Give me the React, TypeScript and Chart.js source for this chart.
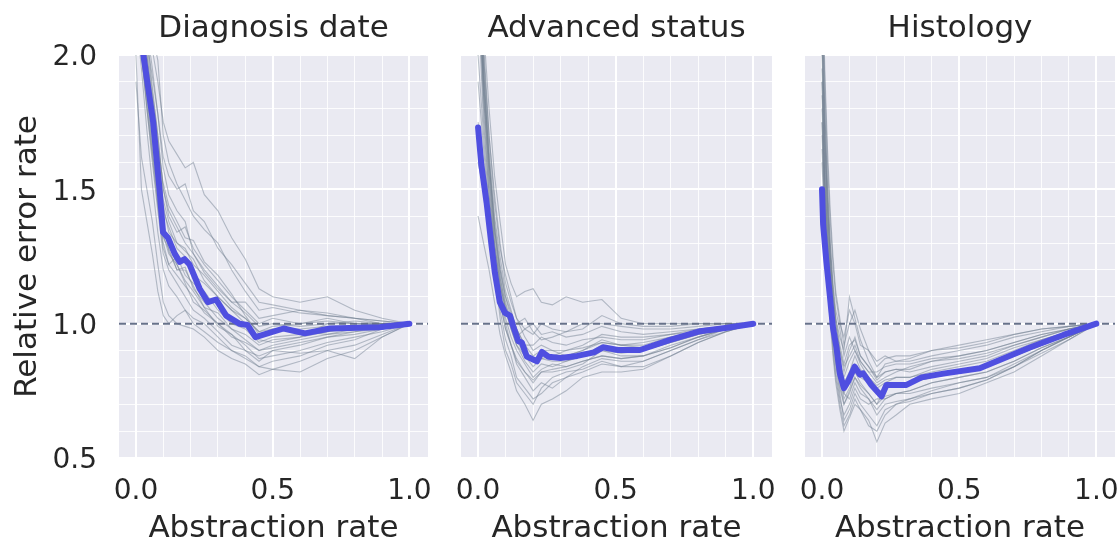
import React, { useEffect, useRef } from 'react';
import { Chart, registerables } from 'chart.js';

Chart.register(...registerables);

// ---------- texts & ticks ----------
const TITLES = ['Diagnosis date', 'Advanced status', 'Histology'];
const X_TITLE = 'Abstraction rate';
const Y_TITLE = 'Relative error rate';
const X_TICK_LABELS = [0.0, 0.5, 1.0];
const Y_TICK_LABELS = [0.5, 1.0, 1.5, 2.0];
const REFERENCE_Y = 1.0;
const X_MIN = -0.062;
const X_MAX = 1.068;
const Y_MIN = 0.5;
const Y_MAX = 2.0;

// ---------- Panel 1: Diagnosis date ----------
const DX_MEAN_X = [0.01, 0.063, 0.087, 0.099, 0.117, 0.142, 0.16, 0.178, 0.196, 0.233, 0.263, 0.293, 0.33, 0.378, 0.408, 0.437, 0.54, 0.618, 0.71, 0.89, 1.0];
const DX_MEAN_Y = [2.12, 1.75, 1.49, 1.34, 1.32, 1.26, 1.23, 1.24, 1.22, 1.13, 1.08, 1.09, 1.03, 1.0, 0.995, 0.95, 0.982, 0.964, 0.982, 0.987, 1.0];
const DX_GRID = [0, 0.02, 0.04, 0.06, 0.08, 0.1, 0.12, 0.15, 0.18, 0.21, 0.25, 0.3, 0.35, 0.4, 0.45, 0.5, 0.6, 0.7, 0.8, 0.9, 1.0];
const DX_RUNS = [
  [2.45, 2.3, 2.15, 2.02, 1.9, 1.75, 1.68, 1.63, 1.58, 1.6, 1.48, 1.42, 1.32, 1.24, 1.13, 1.1, 1.08, 1.1, 1.05, 1.02, 1.0],
  [2.35, 2.2, 2.05, 1.92, 1.78, 1.62, 1.55, 1.5, 1.52, 1.42, 1.38, 1.28, 1.22, 1.15, 1.08, 1.07, 1.05, 1.03, 1.02, 1.01, 1.0],
  [2.2, 2.0, 1.82, 1.64, 1.48, 1.36, 1.3, 1.22, 1.16, 1.12, 1.06, 0.99, 0.96, 0.92, 0.87, 0.88, 0.9, 0.93, 0.95, 0.97, 1.0],
  [1.9, 1.62, 1.5, 1.38, 1.22, 1.08, 1.03, 1.0, 0.99, 0.98, 0.95, 0.9, 0.87, 0.85, 0.81, 0.83, 0.82, 0.87, 0.9, 0.95, 1.0],
  [2.4, 2.25, 2.08, 1.88, 1.7, 1.5, 1.4, 1.34, 1.36, 1.28, 1.22, 1.16, 1.1, 1.05, 1.0, 1.02, 1.0, 1.02, 1.0, 0.99, 1.0],
  [2.3, 2.12, 1.92, 1.72, 1.52, 1.38, 1.27, 1.2, 1.21, 1.13, 1.08, 1.02, 0.98, 0.94, 0.9, 0.92, 0.94, 0.96, 0.97, 0.99, 1.0],
  [2.3, 2.18, 2.0, 1.82, 1.66, 1.52, 1.44, 1.38, 1.32, 1.31, 1.23, 1.18, 1.11, 1.03, 0.96, 0.98, 0.97, 0.96, 0.98, 0.99, 1.0],
  [2.15, 1.95, 1.72, 1.52, 1.34, 1.2, 1.14, 1.1, 1.05, 1.02, 1.0, 0.95, 0.9, 0.87, 0.84, 0.86, 0.88, 0.92, 0.94, 0.98, 1.0],
  [2.5, 2.38, 2.22, 2.08, 1.98, 1.7, 1.6, 1.52, 1.46, 1.4, 1.35, 1.3, 1.2, 1.12, 1.05, 1.06, 1.04, 1.03, 1.02, 1.0, 1.0],
  [2.25, 2.05, 1.85, 1.65, 1.45, 1.3, 1.22, 1.25, 1.18, 1.15, 1.12, 1.05, 1.0, 0.98, 0.93, 0.95, 0.96, 0.97, 0.99, 1.0, 1.0],
  [2.3, 2.12, 1.95, 1.76, 1.58, 1.42, 1.36, 1.28, 1.25, 1.18, 1.15, 1.1, 1.05, 1.0, 0.94, 0.93, 0.95, 1.0, 1.01, 1.0, 1.0],
  [2.25, 2.08, 1.9, 1.7, 1.5, 1.33, 1.26, 1.22, 1.15, 1.08, 1.05, 1.0, 0.96, 0.9, 0.88, 0.9, 0.89, 0.9, 0.87, 0.95, 1.0],
  [2.4, 2.26, 2.1, 1.95, 1.78, 1.58, 1.48, 1.42, 1.38, 1.26, 1.19, 1.13, 1.08, 1.08, 1.02, 1.03, 1.05, 1.04, 1.02, 1.01, 1.0],
  [2.2, 2.02, 1.8, 1.6, 1.42, 1.26, 1.2, 1.15, 1.1, 1.05, 1.02, 0.97, 0.92, 0.9, 0.86, 0.9, 0.92, 0.95, 0.96, 0.98, 1.0],
  [2.0, 1.5, 1.38, 1.26, 1.12, 1.03, 1.0, 1.03, 1.05, 1.0, 0.97, 0.93, 0.9, 0.88, 0.84, 0.83, 0.86, 0.9, 0.92, 0.96, 1.0],
  [2.3, 2.15, 1.98, 1.8, 1.62, 1.44, 1.34, 1.3, 1.28, 1.22, 1.18, 1.12, 1.06, 1.02, 0.97, 0.99, 1.0, 1.01, 1.0, 1.0, 1.0],
  [2.35, 2.18, 2.0, 1.84, 1.66, 1.46, 1.38, 1.3, 1.27, 1.24, 1.16, 1.1, 1.05, 1.02, 0.97, 0.98, 0.98, 0.99, 0.99, 1.0, 1.0],
  [2.25, 2.05, 1.86, 1.68, 1.5, 1.32, 1.28, 1.2, 1.2, 1.14, 1.06, 1.04, 0.98, 0.96, 0.92, 0.94, 0.95, 0.97, 0.98, 0.99, 1.0],
  [2.4, 2.22, 2.04, 1.86, 1.7, 1.5, 1.42, 1.36, 1.3, 1.26, 1.2, 1.14, 1.08, 1.04, 0.99, 1.0, 0.99, 1.0, 1.0, 1.0, 1.0],
  [2.2, 2.0, 1.8, 1.62, 1.44, 1.28, 1.22, 1.18, 1.14, 1.1, 1.04, 1.0, 0.95, 0.93, 0.9, 0.91, 0.93, 0.95, 0.97, 0.98, 1.0],
];

// ---------- Panel 2: Advanced status ----------
const AS_MEAN_X = [0.0, 0.012, 0.031, 0.049, 0.061, 0.079, 0.098, 0.116, 0.128, 0.146, 0.159, 0.177, 0.214, 0.232, 0.256, 0.299, 0.36, 0.421, 0.454, 0.508, 0.588, 0.698, 0.807, 0.905, 1.0];
const AS_MEAN_Y = [1.73, 1.59, 1.45, 1.29, 1.19, 1.08, 1.04, 1.03, 0.99, 0.935, 0.93, 0.878, 0.86, 0.895, 0.877, 0.872, 0.88, 0.893, 0.912, 0.902, 0.902, 0.94, 0.972, 0.985, 1.0];
const AS_GRID = [0, 0.02, 0.04, 0.06, 0.08, 0.1, 0.12, 0.14, 0.17, 0.2, 0.23, 0.27, 0.32, 0.38, 0.45, 0.52, 0.6, 0.7, 0.8, 0.9, 1.0];
const AS_RUNS = [
  [2.6, 2.0, 1.7, 1.45, 1.28, 1.18, 1.1, 1.02, 0.95, 0.9, 0.92, 0.9, 0.88, 0.9, 0.93, 0.92, 0.93, 0.95, 0.97, 0.99, 1.0],
  [1.6, 1.5, 1.38, 1.22, 1.08, 0.98, 0.92, 0.85, 0.8, 0.75, 0.78, 0.76, 0.8, 0.82, 0.85, 0.84, 0.86, 0.9, 0.94, 0.97, 1.0],
  [2.5, 2.1, 1.8, 1.55, 1.38, 1.22, 1.15, 1.1, 1.12, 1.13, 1.08, 1.07, 1.1, 1.08, 1.09, 1.02, 1.0, 1.0, 1.0, 1.0, 1.0],
  [1.4, 1.3, 1.2, 1.08, 0.96, 0.88, 0.82, 0.75, 0.7, 0.64, 0.7, 0.72, 0.75, 0.8, 0.82, 0.82, 0.83, 0.88, 0.93, 0.97, 1.0],
  [2.4, 1.9, 1.6, 1.35, 1.2, 1.08, 1.0, 0.95, 0.98, 1.0, 0.96, 0.97, 0.95, 0.96, 0.99, 0.97, 0.96, 0.97, 0.98, 0.99, 1.0],
  [2.35, 1.85, 1.55, 1.3, 1.15, 1.02, 0.95, 0.9, 0.85, 0.8, 0.83, 0.85, 0.84, 0.86, 0.88, 0.87, 0.88, 0.92, 0.95, 0.98, 1.0],
  [1.75, 1.6, 1.42, 1.22, 1.05, 0.94, 0.88, 0.8, 0.76, 0.72, 0.74, 0.78, 0.8, 0.84, 0.87, 0.86, 0.86, 0.9, 0.94, 0.98, 1.0],
  [2.5, 2.0, 1.65, 1.4, 1.25, 1.12, 1.05, 0.98, 0.92, 0.92, 0.95, 0.93, 0.92, 0.94, 0.95, 0.94, 0.94, 0.96, 0.98, 0.99, 1.0],
  [2.3, 1.8, 1.48, 1.28, 1.12, 1.0, 0.92, 0.86, 0.82, 0.78, 0.82, 0.82, 0.83, 0.85, 0.9, 0.88, 0.88, 0.91, 0.95, 0.98, 1.0],
  [2.4, 1.95, 1.62, 1.38, 1.22, 1.1, 1.02, 1.0, 1.02, 0.97, 0.94, 0.95, 0.97, 1.0, 1.0, 0.99, 0.98, 0.98, 0.99, 1.0, 1.0],
  [1.9, 1.65, 1.42, 1.2, 1.02, 0.9, 0.85, 0.78, 0.74, 0.7, 0.76, 0.8, 0.82, 0.83, 0.86, 0.84, 0.84, 0.88, 0.93, 0.97, 1.0],
  [2.45, 1.92, 1.6, 1.35, 1.18, 1.05, 0.98, 0.92, 0.88, 0.86, 0.87, 0.88, 0.9, 0.92, 0.96, 0.95, 0.95, 0.96, 0.97, 0.99, 1.0],
  [2.3, 1.85, 1.52, 1.3, 1.15, 1.05, 0.98, 0.92, 0.86, 0.82, 0.85, 0.84, 0.86, 0.88, 0.92, 0.9, 0.9, 0.93, 0.96, 0.98, 1.0],
  [2.5, 2.05, 1.7, 1.48, 1.3, 1.15, 1.08, 1.02, 0.98, 0.96, 1.0, 0.98, 0.97, 0.98, 1.03, 1.0, 0.99, 0.99, 1.0, 1.0, 1.0],
  [2.2, 1.75, 1.48, 1.28, 1.14, 1.06, 1.0, 0.94, 0.88, 0.84, 0.87, 0.86, 0.86, 0.88, 0.9, 0.89, 0.9, 0.93, 0.96, 0.98, 1.0],
  [2.45, 1.95, 1.6, 1.36, 1.2, 1.1, 1.04, 0.98, 0.92, 0.88, 0.9, 0.9, 0.9, 0.91, 0.93, 0.92, 0.92, 0.95, 0.97, 0.99, 1.0],
  [2.0, 1.7, 1.44, 1.24, 1.08, 0.98, 0.92, 0.87, 0.82, 0.79, 0.82, 0.83, 0.84, 0.86, 0.88, 0.87, 0.88, 0.91, 0.95, 0.98, 1.0],
  [2.35, 1.88, 1.56, 1.33, 1.17, 1.07, 1.0, 0.96, 0.9, 0.86, 0.88, 0.88, 0.88, 0.9, 0.94, 0.92, 0.91, 0.94, 0.97, 0.99, 1.0],
];

// ---------- Panel 3: Histology ----------
const HI_MEAN_X = [0.0, 0.004, 0.016, 0.028, 0.04, 0.053, 0.065, 0.08, 0.095, 0.119, 0.138, 0.15, 0.18, 0.217, 0.235, 0.308, 0.363, 0.448, 0.575, 0.76, 0.88, 1.0];
const HI_MEAN_Y = [1.5, 1.37, 1.23, 1.11, 0.985, 0.91, 0.815, 0.76, 0.785, 0.84, 0.81, 0.815, 0.772, 0.73, 0.772, 0.772, 0.8, 0.815, 0.834, 0.912, 0.958, 1.0];
const HI_GRID = [0, 0.01, 0.02, 0.03, 0.04, 0.05, 0.065, 0.08, 0.1, 0.12, 0.14, 0.17, 0.2, 0.23, 0.27, 0.32, 0.4, 0.5, 0.6, 0.7, 0.8, 0.9, 1.0];
const HI_RUNS = [
  [2.1, 1.7, 1.45, 1.25, 1.1, 1.0, 0.9, 0.82, 0.9, 0.95, 0.88, 0.84, 0.8, 0.82, 0.83, 0.83, 0.86, 0.88, 0.9, 0.93, 0.96, 0.98, 1.0],
  [1.8, 1.5, 1.3, 1.12, 0.98, 0.88, 0.78, 0.7, 0.75, 0.8, 0.76, 0.72, 0.68, 0.72, 0.74, 0.74, 0.76, 0.78, 0.8, 0.85, 0.9, 0.95, 1.0],
  [2.3, 1.9, 1.6, 1.38, 1.22, 1.1, 1.0, 0.95, 1.05, 1.0, 0.92, 0.9, 0.86, 0.88, 0.86, 0.87, 0.9, 0.92, 0.94, 0.96, 0.98, 0.99, 1.0],
  [1.6, 1.35, 1.15, 1.0, 0.88, 0.78, 0.68, 0.6, 0.65, 0.7, 0.68, 0.64, 0.56, 0.63, 0.66, 0.7, 0.72, 0.74, 0.78, 0.82, 0.88, 0.94, 1.0],
  [1.95, 1.6, 1.38, 1.2, 1.05, 0.95, 0.86, 0.78, 0.82, 0.88, 0.83, 0.8, 0.76, 0.78, 0.8, 0.8, 0.82, 0.84, 0.86, 0.9, 0.94, 0.97, 1.0],
  [1.7, 1.42, 1.22, 1.05, 0.92, 0.82, 0.72, 0.66, 0.7, 0.76, 0.72, 0.7, 0.72, 0.72, 0.74, 0.75, 0.78, 0.8, 0.82, 0.86, 0.91, 0.95, 1.0],
  [2.0, 1.65, 1.42, 1.25, 1.1, 1.02, 0.95, 0.9, 1.1, 1.02, 0.94, 0.86, 0.8, 0.85, 0.86, 0.86, 0.88, 0.9, 0.92, 0.95, 0.97, 0.99, 1.0],
  [1.85, 1.52, 1.32, 1.15, 1.0, 0.9, 0.8, 0.72, 0.76, 0.82, 0.78, 0.74, 0.7, 0.76, 0.77, 0.78, 0.8, 0.82, 0.84, 0.88, 0.92, 0.96, 1.0],
  [2.2, 1.8, 1.52, 1.3, 1.15, 1.05, 0.98, 0.88, 0.95, 0.9, 0.86, 0.82, 0.78, 0.8, 0.82, 0.84, 0.86, 0.87, 0.89, 0.92, 0.95, 0.98, 1.0],
  [1.75, 1.45, 1.25, 1.08, 0.95, 0.85, 0.74, 0.64, 0.68, 0.74, 0.7, 0.66, 0.62, 0.68, 0.7, 0.71, 0.74, 0.76, 0.79, 0.84, 0.89, 0.94, 1.0],
  [2.05, 1.72, 1.46, 1.26, 1.12, 1.0, 0.9, 0.84, 0.88, 0.92, 0.86, 0.82, 0.82, 0.84, 0.85, 0.85, 0.87, 0.88, 0.9, 0.93, 0.96, 0.98, 1.0],
  [1.9, 1.55, 1.35, 1.18, 1.02, 0.92, 0.82, 0.74, 0.72, 0.78, 0.74, 0.72, 0.66, 0.7, 0.71, 0.72, 0.75, 0.78, 0.8, 0.84, 0.9, 0.95, 1.0],
  [2.4, 1.95, 1.65, 1.42, 1.25, 1.12, 1.02, 0.92, 1.0, 1.05, 0.98, 0.9, 0.84, 0.87, 0.88, 0.88, 0.9, 0.91, 0.93, 0.96, 0.98, 0.99, 1.0],
  [1.65, 1.4, 1.2, 1.04, 0.9, 0.8, 0.7, 0.62, 0.66, 0.72, 0.68, 0.62, 0.6, 0.66, 0.7, 0.72, 0.74, 0.76, 0.79, 0.84, 0.9, 0.95, 1.0],
  [1.9, 1.55, 1.32, 1.14, 1.0, 0.9, 0.8, 0.74, 0.8, 0.85, 0.8, 0.78, 0.74, 0.76, 0.77, 0.78, 0.8, 0.82, 0.84, 0.88, 0.92, 0.96, 1.0],
  [2.1, 1.68, 1.42, 1.22, 1.06, 0.96, 0.86, 0.8, 0.86, 0.9, 0.85, 0.8, 0.77, 0.79, 0.8, 0.8, 0.83, 0.85, 0.87, 0.91, 0.94, 0.97, 1.0],
  [1.75, 1.46, 1.26, 1.1, 0.96, 0.86, 0.76, 0.7, 0.74, 0.8, 0.77, 0.74, 0.7, 0.73, 0.74, 0.75, 0.78, 0.8, 0.82, 0.86, 0.91, 0.95, 1.0],
  [2.25, 1.8, 1.5, 1.3, 1.14, 1.02, 0.92, 0.85, 0.92, 0.94, 0.88, 0.84, 0.79, 0.82, 0.83, 0.82, 0.84, 0.86, 0.88, 0.92, 0.95, 0.98, 1.0],
];

// ---------- styles ----------
const FONT = "'DejaVu Sans', 'Liberation Sans', sans-serif";
const TEXT = '#262626';
const BG = '#EAEAF2';
const BLUE = '#4F4FE0';
const RUN_COLOR = 'rgba(112,128,144,0.48)';
const DASH_COLOR = '#67728A';

const PANELS = [
  { title: TITLES[0], meanX: DX_MEAN_X, meanY: DX_MEAN_Y, grid: DX_GRID, runs: DX_RUNS, left: 0, width: 440, padL: 0, padR: 12, yW: 119, showY: true },
  { title: TITLES[1], meanX: AS_MEAN_X, meanY: AS_MEAN_Y, grid: AS_GRID, runs: AS_RUNS, left: 440, width: 340, padL: 21, padR: 8, yW: 0, showY: false },
  { title: TITLES[2], meanX: HI_MEAN_X, meanY: HI_MEAN_Y, grid: HI_GRID, runs: HI_RUNS, left: 780, width: 340, padL: 25, padR: 5, yW: 0, showY: false },
];

const isMajor = (v: number) => Math.abs(v * 2 - Math.round(v * 2)) < 1e-6;
const inList = (v: number, list: number[]) => list.some((t) => Math.abs(t - v) < 1e-6);

const bgPlugin = {
  id: 'plotBg',
  beforeDraw(chart: any) {
    const { ctx, chartArea: a } = chart;
    ctx.save();
    ctx.fillStyle = BG;
    ctx.fillRect(a.left, a.top, a.right - a.left, a.bottom - a.top);
    ctx.restore();
  },
};

function gridOpts() {
  return {
    drawTicks: false,
    color: (c: any) => (c.tick && isMajor(c.tick.value) ? '#FFFFFF' : 'rgba(255,255,255,0.85)'),
    lineWidth: (c: any) => (c.tick && isMajor(c.tick.value) ? 2 : 1),
  };
}

function Panel({ p }: { p: (typeof PANELS)[number] }) {
  const ref = useRef<HTMLCanvasElement>(null);
  useEffect(() => {
    if (!ref.current) return;
    const datasets: any[] = [];
    datasets.push({
      data: p.meanX.map((x, i) => ({ x, y: p.meanY[i] })),
      borderColor: BLUE,
      borderWidth: 6,
      borderCapStyle: 'round',
      borderJoinStyle: 'round',
      pointRadius: 0,
      order: 0,
    });
    datasets.push({
      data: [
        { x: X_MIN, y: REFERENCE_Y },
        { x: X_MAX, y: REFERENCE_Y },
      ],
      borderColor: DASH_COLOR,
      borderWidth: 2,
      borderDash: [7, 4],
      pointRadius: 0,
      order: 1,
    });
    p.runs.forEach((run) => {
      datasets.push({
        data: p.grid.map((x, i) => ({ x, y: run[i] })),
        borderColor: RUN_COLOR,
        borderWidth: 1.1,
        pointRadius: 0,
        order: 2,
      });
    });
    const chart = new Chart(ref.current, {
      type: 'line',
      data: { datasets },
      plugins: [bgPlugin],
      options: {
        animation: false,
        responsive: false,
        devicePixelRatio: 1,
        layout: { padding: { left: p.padL, right: p.padR, top: 0, bottom: 0 } },
        plugins: {
          legend: { display: false },
          tooltip: { enabled: false },
          title: {
            display: true,
            fullSize: false,
            text: p.title,
            color: TEXT,
            font: { family: FONT, size: 31, weight: 'normal' },
            padding: { top: 10, bottom: 7.8 },
          },
        },
        scales: {
          x: {
            type: 'linear',
            min: X_MIN,
            max: X_MAX,
            border: { display: false },
            grid: gridOpts(),
            ticks: {
              stepSize: 0.1,
              includeBounds: false,
              autoSkip: false,
              maxRotation: 0,
              padding: 17,
              color: TEXT,
              font: { family: FONT, size: 28 },
              callback: (v: any) => (inList(Number(v), X_TICK_LABELS) ? Number(v).toFixed(1) : ''),
            },
            title: {
              display: true,
              text: X_TITLE,
              color: TEXT,
              font: { family: FONT, size: 31, lineHeight: 1.0 },
              padding: { top: 0, bottom: 0 },
            },
            afterFit: (s: any) => {
              s.height = 86;
              s.paddingLeft = 0;
              s.paddingRight = 0;
            },
          },
          y: {
            type: 'linear',
            min: Y_MIN,
            max: Y_MAX,
            border: { display: false },
            grid: gridOpts(),
            ticks: {
              display: p.showY,
              stepSize: 0.1,
              includeBounds: false,
              autoSkip: false,
              padding: 22,
              labelOffset: 3,
              color: TEXT,
              font: { family: FONT, size: 28 },
              callback: (v: any) => (inList(Number(v), Y_TICK_LABELS) ? Number(v).toFixed(1) : ''),
            },
            title: {
              display: p.showY,
              text: Y_TITLE,
              color: TEXT,
              font: { family: FONT, size: 31 },
              padding: { top: 9, bottom: 0 },
            },
            afterFit: (s: any) => {
              s.width = p.yW;
              s.paddingTop = 0;
              s.paddingBottom = 0;
            },
          },
        },
      } as any,
    });
    return () => chart.destroy();
  }, [p]);
  return (
    <canvas
      ref={ref}
      width={p.width}
      height={544}
      style={{ position: 'absolute', left: p.left, top: 0, width: p.width, height: 544 }}
    />
  );
}

export default function App() {
  return (
    <div style={{ position: 'fixed', left: 0, top: 0, width: 1120, height: 544, background: '#FFFFFF', overflow: 'hidden' }}>
      {PANELS.map((p, i) => (
        <Panel key={i} p={p} />
      ))}
    </div>
  );
}
